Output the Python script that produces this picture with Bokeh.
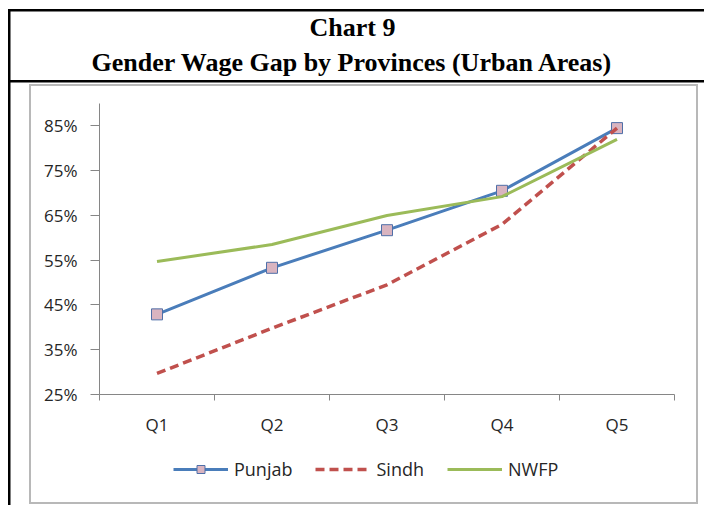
from bokeh.plotting import figure
from bokeh.models import (Range1d, FixedTicker, NumeralTickFormatter, Legend, LegendItem,
                          Label, LinearAxis)
from bokeh.embed import file_html
from bokeh.resources import INLINE

# ---- data ----
quintiles = ["Q1", "Q2", "Q3", "Q4", "Q5"]
punjab = [0.429, 0.533, 0.617, 0.705, 0.845]
sindh = [0.297, 0.398, 0.495, 0.630, 0.845]
nwfp = [0.547, 0.585, 0.650, 0.692, 0.820]
y_ticks = [0.25, 0.35, 0.45, 0.55, 0.65, 0.75, 0.85]
title_line1 = "Chart 9"
title_line2 = "Gender Wage Gap by Provinces (Urban Areas)"

xs = list(range(1, len(quintiles) + 1))

W, H = 704, 505
# plot area in page pixels
PL, PR, PT, PB = 99, 674, 103, 394
x_lo, x_hi = 0.5, 5.5
y_lo, y_hi = 0.25, 0.90
kx = (PR - PL) / (x_hi - x_lo)
ky = (PB - PT) / (y_hi - y_lo)
x_range = Range1d(x_lo - PL / kx, x_hi + (W - PR) / kx)
y_range = Range1d(y_lo - (H - PB) / ky, y_hi + PT / ky)

# decorative frame lines drawn with CSS backgrounds on the figure element
frame_lines = [
    ("black", "8px 9px", "696px 2.5px"),      # top black
    ("black", "8px 80px", "696px 2.5px"),     # title underline
    ("black", "8px 9px", "2.5px 496px"),      # left black
    ("#b8b8b8", "29px 84px", "669px 2px"),    # gray top
    ("#b8b8b8", "29px 502px", "669px 2px"),   # gray bottom
    ("#b8b8b8", "29px 84px", "2px 420px"),    # gray left
    ("#b8b8b8", "696px 84px", "2px 420px"),   # gray right
]
css = {
    "background-color": "white",
    "background-image": ", ".join(f"linear-gradient({c}, {c})" for c, _, _ in frame_lines),
    "background-position": ", ".join(pos for _, pos, _ in frame_lines),
    "background-size": ", ".join(sz for _, _, sz in frame_lines),
    "background-repeat": "no-repeat",
}

p = figure(width=W, height=H, output_backend="svg", toolbar_location=None,
           x_range=x_range, y_range=y_range, x_axis_location=None, y_axis_location=None,
           min_border=0, min_border_left=0, min_border_right=0, min_border_top=0,
           min_border_bottom=0, styles=css)
p.outline_line_color = None
p.xgrid.grid_line_color = None
p.ygrid.grid_line_color = None
p.background_fill_alpha = 0
p.border_fill_alpha = 0

font = "Open Sans"
txt_color = "#262626"
axis_color = "#868686"

# x axis (fixed at the bottom of the plot area)
xaxis = LinearAxis(fixed_location=y_lo, bounds=(x_lo, x_hi))
xaxis.ticker = FixedTicker(ticks=xs, minor_ticks=[x - 0.5 for x in xs] + [xs[-1] + 0.5])
xaxis.major_label_overrides = {x: q for x, q in zip(xs, quintiles)}
xaxis.major_tick_out = 0
xaxis.major_tick_in = 0
xaxis.minor_tick_out = 6
xaxis.minor_tick_in = 0
xaxis.minor_tick_line_color = axis_color
xaxis.axis_line_color = axis_color
xaxis.major_label_standoff = 12
xaxis.major_label_text_font = font
xaxis.major_label_text_font_size = "17px"
xaxis.major_label_text_color = txt_color
p.add_layout(xaxis, "below")

# y axis (fixed at the left of the plot area)
yaxis = LinearAxis(fixed_location=x_lo, bounds=(y_lo, y_hi))
yaxis.ticker = FixedTicker(ticks=y_ticks)
yaxis.formatter = NumeralTickFormatter(format="0%")
yaxis.major_tick_out = 9
yaxis.major_tick_in = 0
yaxis.major_tick_line_color = axis_color
yaxis.minor_tick_line_color = None
yaxis.axis_line_color = axis_color
yaxis.major_label_standoff = 13
yaxis.major_label_text_font = font
yaxis.major_label_text_font_size = "17px"
yaxis.major_label_text_color = txt_color
p.add_layout(yaxis, "left")

# series
r_pl = p.line(xs, punjab, line_color="#4a7dba", line_width=3)
r_pm = p.scatter(xs, punjab, marker="square", size=11, fill_color="#d9b4c0",
                 line_color="#4f6fa8", line_width=1)
r_s = p.line(xs, sindh, line_color="#c0504d", line_width=3.5, line_dash="9 5")
r_n = p.line(xs, nwfp, line_color="#9bbb59", line_width=3)

legend = Legend(items=[LegendItem(label="Punjab", renderers=[r_pl, r_pm]),
                       LegendItem(label="Sindh", renderers=[r_s]),
                       LegendItem(label="NWFP", renderers=[r_n])],
                orientation="horizontal", location=(173, H - 481),
                glyph_width=55, glyph_height=20, label_height=20, label_standoff=6,
                spacing=23, padding=0, margin=0, border_line_color=None,
                background_fill_alpha=0,
                label_text_font=font, label_text_font_size="18px", label_text_color=txt_color)
p.add_layout(legend, "center")

# title
for txt, cy in [(title_line1, 27), (title_line2, 62)]:
    p.add_layout(Label(x=352, y=H - cy, x_units="screen", y_units="screen", text=txt,
                       text_align="center", text_baseline="middle",
                       text_font="Liberation Serif", text_font_style="bold",
                       text_font_size="26px", text_color="black"))

open("out.html", "w").write(file_html(p, INLINE))
